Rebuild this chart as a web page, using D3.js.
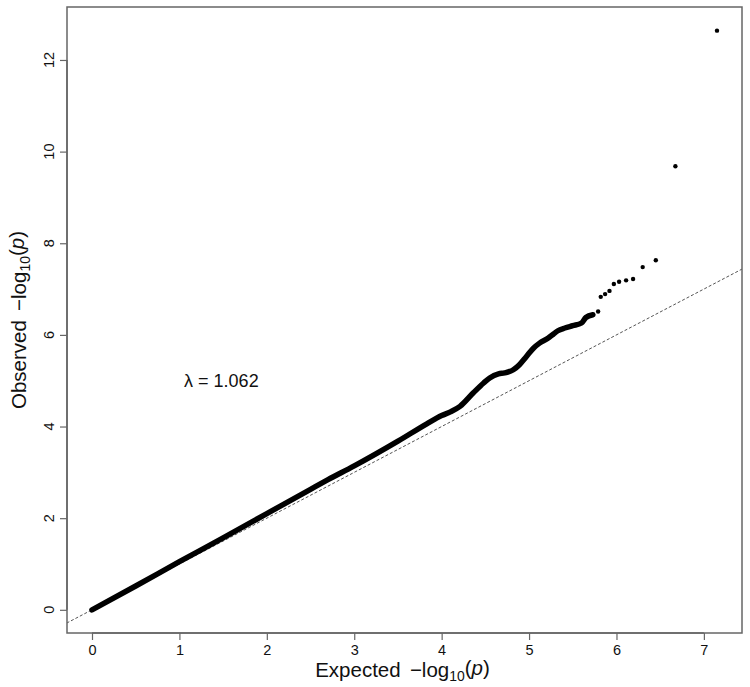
<!DOCTYPE html>
<html>
<head>
<meta charset="utf-8">
<script src="https://cdn.jsdelivr.net/npm/d3@7"></script>
<style>
  body { margin: 0; background: #fff; }
  text { font-family: "Liberation Sans", Arial, Helvetica, sans-serif; }
</style>
</head>
<body>
<script>
var width = 750,
    height = 687;

// dense part of the QQ curve (expected, observed)
var curveExpected = [0, 0.5, 1.0, 1.5, 2.0, 2.5, 2.7, 3.0, 3.5, 3.83, 4.0, 4.1, 4.21, 4.36, 4.48, 4.55, 4.65, 4.72, 4.82, 4.89, 4.97, 5.05, 5.12, 5.22, 5.28, 5.33, 5.41, 5.5, 5.6, 5.65, 5.73];
var curveObserved = [0, 0.52, 1.05, 1.57, 2.1, 2.63, 2.84, 3.14, 3.68, 4.06, 4.24, 4.32, 4.44, 4.73, 4.95, 5.06, 5.15, 5.17, 5.24, 5.35, 5.53, 5.71, 5.82, 5.93, 6.02, 6.09, 6.15, 6.2, 6.26, 6.38, 6.44];

// the separate points at the top tail
var tailExpected = [5.79, 5.82, 5.87, 5.92, 5.97, 6.03, 6.11, 6.19, 6.30, 6.45, 6.674, 7.15];
var tailObserved = [6.51, 6.83, 6.89, 6.96, 7.11, 7.16, 7.19, 7.22, 7.48, 7.63, 9.68, 12.64];

var xTicks = [0, 1, 2, 3, 4, 5, 6, 7],
    yTicks = [0, 2, 4, 6, 8, 10, 12],
    lambdaLabel = "1.062";

var plot = {left: 67, right: 742, top: 7, bottom: 633};

var svg = d3.select("body").append("svg")
    .attr("width", width)
    .attr("height", height);

// R style 4% padding around the data range
var x = d3.scaleLinear().domain([-0.286, 7.436]).range([plot.left, plot.right]),
    y = d3.scaleLinear().domain([-0.506, 13.156]).range([plot.bottom, plot.top]);

svg.append("defs").append("clipPath").attr("id", "clip")
  .append("rect")
    .attr("x", plot.left).attr("y", plot.top)
    .attr("width", plot.right - plot.left)
    .attr("height", plot.bottom - plot.top);

var g = svg.append("g").attr("clip-path", "url(#clip)");

// y = x reference line
g.append("line")
    .attr("x1", x(-1)).attr("y1", y(-1))
    .attr("x2", x(8)).attr("y2", y(8))
    .attr("stroke", "#555")
    .attr("stroke-width", 1)
    .attr("stroke-dasharray", "3,2");

var curve = curveExpected.map(function(d, i) { return [d, curveObserved[i]]; });

g.append("path")
    .datum(curve)
    .attr("fill", "none")
    .attr("stroke", "#000")
    .attr("stroke-width", 5.5)
    .attr("stroke-linecap", "round")
    .attr("stroke-linejoin", "round")
    .attr("d", d3.line()
        .x(function(d) { return x(d[0]); })
        .y(function(d) { return y(d[1]); })
        .curve(d3.curveMonotoneX));

g.selectAll("circle.tail")
    .data(tailExpected.map(function(d, i) { return [d, tailObserved[i]]; }))
    .enter().append("circle")
      .attr("class", "tail")
      .attr("cx", function(d) { return x(d[0]); })
      .attr("cy", function(d) { return y(d[1]); })
      .attr("r", 2.2)
      .attr("fill", "#000");

// box
svg.append("rect")
    .attr("x", plot.left).attr("y", plot.top)
    .attr("width", plot.right - plot.left)
    .attr("height", plot.bottom - plot.top)
    .attr("fill", "none")
    .attr("stroke", "#666")
    .attr("stroke-width", 1.5);

// x axis
var xAxis = svg.append("g")
    .attr("transform", "translate(0," + plot.bottom + ")")
    .call(d3.axisBottom(x).tickValues(xTicks).tickSize(7).tickPadding(5).tickFormat(d3.format("d")));
xAxis.select(".domain")
    .attr("d", "M" + x(0) + ",0H" + x(7))
    .attr("stroke", "#666").attr("stroke-width", 1.5);
xAxis.selectAll(".tick line").attr("stroke", "#666").attr("stroke-width", 1.2);
xAxis.selectAll(".tick text")
    .attr("font-size", 14.5)
    .attr("font-family", "Liberation Sans, Arial, sans-serif")
    .attr("fill", "#111");

// y axis, labels rotated like R's default
var yAxis = svg.append("g")
    .attr("transform", "translate(" + plot.left + ",0)")
    .call(d3.axisLeft(y).tickValues(yTicks).tickSize(7).tickFormat(""));
yAxis.select(".domain")
    .attr("d", "M0," + y(0) + "V" + y(12))
    .attr("stroke", "#666").attr("stroke-width", 1.5);
yAxis.selectAll(".tick line").attr("stroke", "#666").attr("stroke-width", 1.2);

svg.append("g").selectAll("text")
    .data(yTicks)
    .enter().append("text")
      .attr("transform", function(d) { return "translate(54," + y(d) + ")rotate(-90)"; })
      .attr("text-anchor", "middle")
      .attr("font-size", 14.5)
      .attr("fill", "#111")
      .text(function(d) { return d; });

// axis titles
function logLabel(sel, word) {
  sel.append("tspan").text(word);
  sel.append("tspan").attr("dx", "0.45em").text("\u2212log");
  sel.append("tspan").attr("font-size", "0.68em").attr("dy", "0.28em").text("10");
  sel.append("tspan").attr("dy", "-0.28em").text("(");
  sel.append("tspan").attr("font-style", "italic").text("p");
  sel.append("tspan").text(")");
}

svg.append("text")
    .attr("x", (plot.left + plot.right) / 2 - 2)
    .attr("y", 677)
    .attr("text-anchor", "middle")
    .attr("font-size", 20.5)
    .attr("fill", "#111")
    .call(logLabel, "Expected");

svg.append("text")
    .attr("transform", "translate(26," + ((plot.top + plot.bottom) / 2) + ")rotate(-90)")
    .attr("text-anchor", "middle")
    .attr("font-size", 20.5)
    .attr("fill", "#111")
    .call(logLabel, "Observed");

// lambda annotation
svg.append("text")
    .attr("x", x(1.48))
    .attr("y", y(5) + 6)
    .attr("text-anchor", "middle")
    .attr("font-size", 18)
    .attr("fill", "#111")
    .text("\u03bb = " + lambdaLabel);
</script>
</body>
</html>
